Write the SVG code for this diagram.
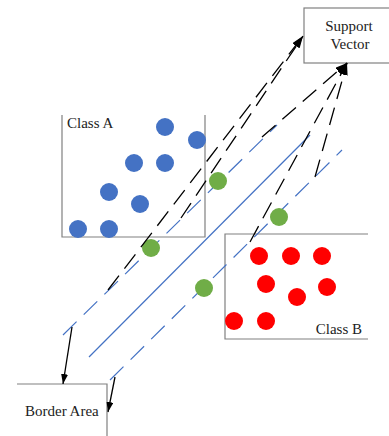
<svg xmlns="http://www.w3.org/2000/svg" width="389" height="436" viewBox="0 0 389 436">
<defs>
<marker id="ah" viewBox="0 0 12 8" refX="12" refY="4" markerWidth="12" markerHeight="8" markerUnits="userSpaceOnUse" orient="auto">
<path d="M0,0 L12,4 L0,8 z" fill="#000"/>
</marker>
<marker id="ahs" viewBox="0 0 10 7" refX="10" refY="3.5" markerWidth="10" markerHeight="7" markerUnits="userSpaceOnUse" orient="auto">
<path d="M0,0 L10,3.5 L0,7 z" fill="#000"/>
</marker>
</defs>
<style>
.box{fill:none;stroke:#808080;stroke-width:1.2}
.lbl{font-family:"Liberation Serif",serif;font-size:15px;fill:#222}
.a{fill:#4472C4}
.b{fill:#FF0000}
.g{fill:#70AD47}
.bl{stroke:#4472C4;stroke-width:1.2;fill:none}
.bd{stroke:#4472C4;stroke-width:1.2;stroke-dasharray:19 10;fill:none}
.kd{stroke:#000;stroke-width:1.3;stroke-dasharray:18 9;fill:none;marker-end:url(#ah)}
.ks{stroke:#000;stroke-width:1.3;fill:none;marker-end:url(#ahs)}
</style>
<rect width="389" height="436" fill="#fff"/>
<g id="class-a">
<path class="box" d="M62,115 V237 H205 V115"/>
<text class="lbl" x="67" y="128">Class A</text>
<circle class="a" cx="165" cy="127" r="9"/>
<circle class="a" cx="197" cy="140" r="9"/>
<circle class="a" cx="134" cy="163" r="9"/>
<circle class="a" cx="165" cy="163" r="9"/>
<circle class="a" cx="109" cy="192" r="9"/>
<circle class="a" cx="140" cy="204" r="9"/>
<circle class="a" cx="78" cy="229" r="9"/>
<circle class="a" cx="109" cy="229" r="9"/>
</g>
<g id="class-b">
<path class="box" d="M368,234 H225 V339 H368"/>
<text class="lbl" x="362" y="334" text-anchor="end">Class B</text>
<circle class="b" cx="259" cy="256" r="9"/>
<circle class="b" cx="291" cy="256" r="9"/>
<circle class="b" cx="322" cy="256" r="9"/>
<circle class="b" cx="266" cy="284" r="9"/>
<circle class="b" cx="327" cy="287" r="9"/>
<circle class="b" cx="297" cy="297" r="9"/>
<circle class="b" cx="234" cy="321" r="9"/>
<circle class="b" cx="266" cy="321" r="9"/>
</g>
<g id="support-vector">
<rect class="box" x="304" y="8" width="90" height="55" fill="#fff"/>
<text class="lbl" x="349" y="31" text-anchor="middle">Support</text>
<text class="lbl" x="350" y="49" text-anchor="middle">Vector</text>
</g>
<g id="border-area">
<path class="box" d="M17,384 H107 V436"/>
<text class="lbl" x="25" y="416">Border Area</text>
</g>
<g id="hyperplanes">
<line class="bd" x1="63" y1="335" x2="277" y2="125"/>
<line class="bl" x1="89" y1="357" x2="310" y2="135"/>
<line class="bd" x1="110" y1="380" x2="342" y2="150"/>
</g>
<g id="support-points">
<circle class="g" cx="218" cy="181" r="9"/>
<circle class="g" cx="151" cy="248" r="9"/>
<circle class="g" cx="279" cy="217" r="9"/>
<circle class="g" cx="204" cy="288" r="9"/>
</g>
<g id="connectors">
<line class="kd" x1="108" y1="290" x2="303" y2="36"/>
<line class="kd" x1="181" y1="218" x2="303" y2="36"/>
<line class="kd" x1="262" y1="137" x2="347" y2="63"/>
<line class="kd" x1="250" y1="242" x2="347" y2="63"/>
<line class="kd" x1="315" y1="177" x2="347" y2="63"/>
<line class="ks" x1="72" y1="327" x2="63" y2="384"/>
<line class="ks" x1="115" y1="377" x2="108" y2="412"/>
</g>
</svg>
